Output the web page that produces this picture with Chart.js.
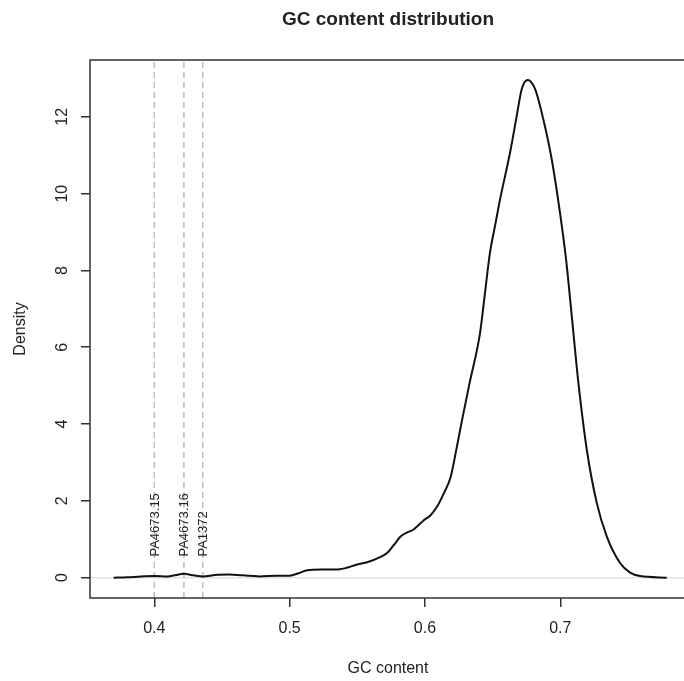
<!DOCTYPE html>
<html>
<head>
<meta charset="utf-8">
<title>GC content distribution</title>
<script src="https://cdn.jsdelivr.net/npm/chart.js@4.4.0/dist/chart.umd.min.js"></script>
<style>
    html, body { margin: 0; padding: 0; background: #fff; overflow: hidden; }
    canvas { display: block; }
</style>
</head>
<body>
<canvas id="myChart" width="686" height="681"></canvas>
<script>
// density curve
var gcContent = [0.370, 0.380, 0.390, 0.400, 0.410, 0.415, 0.422, 0.429, 0.436, 0.445,
    0.455, 0.465, 0.471, 0.478, 0.490, 0.500, 0.507, 0.513, 0.525, 0.537,
    0.550, 0.559, 0.566, 0.572, 0.577, 0.582, 0.587, 0.591, 0.595, 0.599,
    0.604, 0.609, 0.614, 0.619, 0.623, 0.627, 0.633, 0.6407, 0.6444, 0.648,
    0.652, 0.6555, 0.6629, 0.6678, 0.6715, 0.676, 0.6814, 0.6875, 0.6937, 0.6998,
    0.7043, 0.7085, 0.7134, 0.7196, 0.727, 0.7344, 0.7442, 0.7516, 0.759, 0.7787];
var density = [0.00, 0.01, 0.03, 0.04, 0.03, 0.06, 0.10, 0.06, 0.03, 0.07,
    0.08, 0.06, 0.05, 0.03, 0.05, 0.05, 0.12, 0.19, 0.21, 0.22,
    0.34, 0.42, 0.52, 0.64, 0.85, 1.07, 1.18, 1.24, 1.36, 1.49,
    1.62, 1.85, 2.20, 2.62, 3.30, 4.03, 5.07, 6.37, 7.42, 8.45,
    9.20, 9.85, 11.07, 12.02, 12.72, 12.96, 12.72, 11.93, 10.89, 9.50,
    8.28, 6.81, 5.07, 3.33, 1.94, 1.07, 0.38, 0.13, 0.04, 0.00];

// marked strains
var markerLabels = ['PA4673.15', 'PA4673.16', 'PA1372'];
var markerGC = [0.400, 0.4219, 0.4358];
var markerLabelY = 0.55;

// axes
var xTicks = [0.4, 0.5, 0.6, 0.7];
var yTicks = [0, 2, 4, 6, 8, 10, 12];
var xMin = 0.3525, xMax = 0.7929;
var yMin = -0.53, yMax = 13.48;

var fontFamily = "'Liberation Sans', Arial, Helvetica, sans-serif";
var textColor = '#222';
var axisColor = '#333';

var datasets = [{
    label: 'density',
    data: gcContent.map(function (v, i) { return { x: v, y: density[i] }; }),
    borderColor: '#111',
    borderWidth: 2,
    pointRadius: 0,
    fill: false,
    cubicInterpolationMode: 'monotone'
}];
for (let i = 0; i < markerGC.length; i++) {
    datasets.push({
        label: markerLabels[i],
        data: [{ x: markerGC[i], y: yMin }, { x: markerGC[i], y: yMax }],
        borderColor: '#bdbdbd',
        borderWidth: 1.5,
        borderDash: [6, 4],
        pointRadius: 0,
        fill: false
    });
}

// box round the plot region
var boxPlugin = {
    id: 'plotBox',
    afterDraw: function (chart) {
        var a = chart.chartArea;
        var ctx = chart.ctx;
        ctx.save();
        ctx.strokeStyle = axisColor;
        ctx.lineWidth = 1.5;
        ctx.strokeRect(a.left, a.top, a.right - a.left, a.bottom - a.top);
        ctx.restore();
    }
};

// rotated labels next to the dashed lines
var markerTextPlugin = {
    id: 'markerText',
    afterDatasetsDraw: function (chart) {
        var ctx = chart.ctx;
        var xs = chart.scales.x;
        var ys = chart.scales.y;
        ctx.save();
        ctx.fillStyle = textColor;
        ctx.font = '13px ' + fontFamily;
        ctx.textAlign = 'left';
        ctx.textBaseline = 'middle';
        for (let i = 0; i < markerLabels.length; i++) {
            ctx.save();
            ctx.translate(xs.getPixelForValue(markerGC[i]) + 1, ys.getPixelForValue(markerLabelY));
            ctx.rotate(-Math.PI / 2);
            ctx.fillText(markerLabels[i], 0, 0);
            ctx.restore();
        }
        ctx.restore();
    }
};

var ctx = document.getElementById('myChart');
var myChart = new Chart(ctx, {
    type: 'line',
    data: { datasets: datasets },
    plugins: [boxPlugin, markerTextPlugin],
    options: {
        responsive: false,
        animation: false,
        layout: { padding: 0 },
        plugins: {
            legend: { display: false },
            tooltip: { enabled: false },
            title: {
                display: true,
                text: 'GC content distribution',
                fullSize: false,
                color: textColor,
                font: { family: fontFamily, size: 19, weight: 'bold', lineHeight: 1.2 },
                padding: { top: 8.6, bottom: 28.6 }
            }
        },
        scales: {
            x: {
                type: 'linear',
                min: xMin,
                max: xMax,
                afterBuildTicks: function (scale) {
                    scale.ticks = xTicks.map(function (v) { return { value: v }; });
                },
                afterFit: function (scale) { scale.height = 83; },
                border: { display: false },
                grid: {
                    drawOnChartArea: false,
                    drawTicks: true,
                    tickLength: 9,
                    tickColor: axisColor,
                    lineWidth: 1.5
                },
                ticks: {
                    autoSkip: false,
                    maxRotation: 0,
                    padding: 12,
                    color: textColor,
                    font: { family: fontFamily, size: 16 },
                    callback: function (v) { return v.toFixed(1); }
                },
                title: {
                    display: true,
                    text: 'GC content',
                    color: textColor,
                    font: { family: fontFamily, size: 16 },
                    padding: { top: 0, bottom: 2.4 }
                }
            },
            y: {
                type: 'linear',
                min: yMin,
                max: yMax,
                afterBuildTicks: function (scale) {
                    scale.ticks = yTicks.map(function (v) { return { value: v }; });
                },
                afterFit: function (scale) { scale.width = 90; },
                border: { display: false },
                grid: {
                    drawOnChartArea: true,
                    drawTicks: true,
                    tickLength: 9,
                    tickColor: axisColor,
                    lineWidth: 1.5,
                    color: function (c) {
                        return c.tick && c.tick.value === 0 ? '#e2e2e2' : 'rgba(0,0,0,0)';
                    }
                },
                ticks: {
                    autoSkip: false,
                    minRotation: 90,
                    maxRotation: 90,
                    crossAlign: 'center',
                    padding: 10,
                    color: textColor,
                    font: { family: fontFamily, size: 16 }
                },
                title: {
                    display: true,
                    text: 'Density',
                    color: textColor,
                    font: { family: fontFamily, size: 16 },
                    padding: { top: 11, bottom: 0 }
                }
            }
        }
    }
});
</script>
</body>
</html>
